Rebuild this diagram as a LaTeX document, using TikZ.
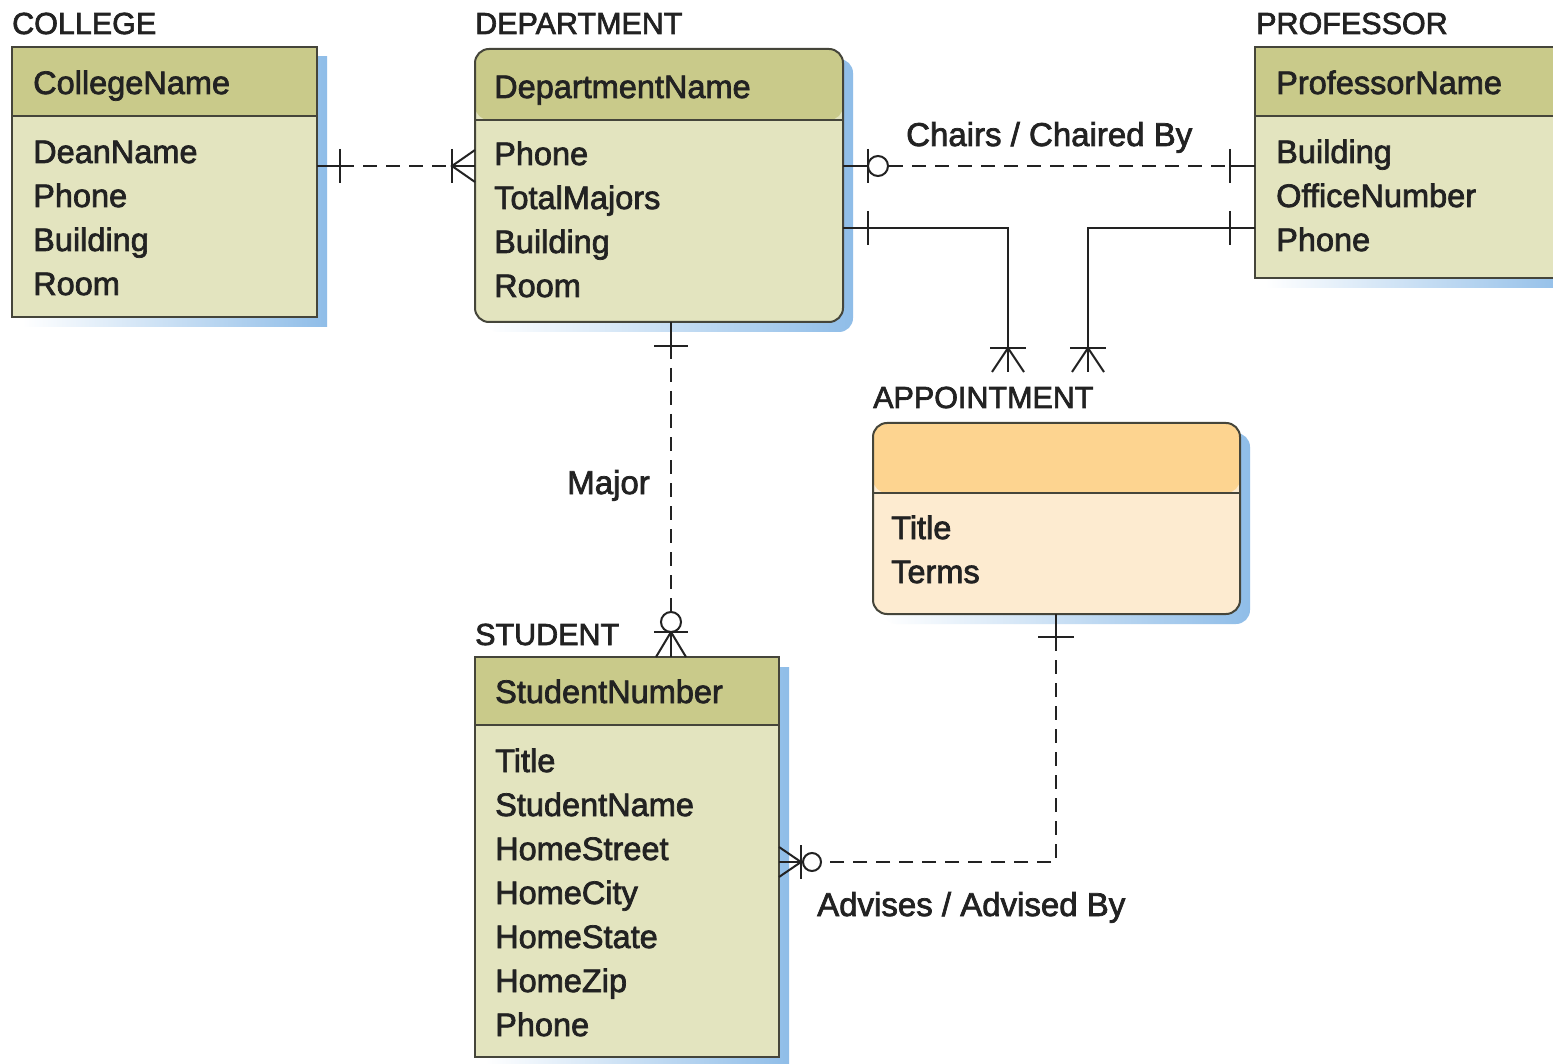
\documentclass[tikz,border=0pt]{standalone}
\usepackage{fontspec}
\setmainfont{Liberation Sans}
\newfontfamily\medsans{Liberation Sans}[FakeBold=2.2]
\usetikzlibrary{calc,backgrounds}

\definecolor{hdr}{HTML}{C9CA8A}
\definecolor{body}{HTML}{E3E4BF}
\definecolor{ahdr}{HTML}{FDD490}
\definecolor{abody}{HTML}{FDEBD0}
\definecolor{edge}{HTML}{45453A}
\definecolor{ink}{HTML}{222222}
\definecolor{sblue}{HTML}{8FBDE8}

\newcommand{\attrfont}{\medsans\fontsize{32.5}{38}\selectfont}
\newcommand{\titlefont}{\medsans\fontsize{30.5}{36}\selectfont}
\newcommand{\relfont}{\medsans\fontsize{33}{38}\selectfont}

\begin{document}
\begin{tikzpicture}[x=1pt,y=-1pt,
  entity/.style={draw=edge, line width=2pt, anchor=north west,
    inner sep=0pt, outer sep=0pt},
  header/.style 2 args={path picture={
      \fill[#1] (path picture bounding box.north west) rectangle
        ([yshift=-#2]path picture bounding box.north east);
      \draw[edge, line width=2pt]
        ([yshift=-#2]path picture bounding box.north west) --
        ([yshift=-#2]path picture bounding box.north east);}},
  attr/.style={anchor=base west, inner sep=0pt, font=\attrfont, text=ink},
  etitle/.style={anchor=base west, inner sep=0pt, font=\titlefont, text=ink},
  rlabel/.style={inner sep=0pt, font=\relfont, text=ink},
  rel/.style={draw=ink, line width=2pt},
  reldash/.style={rel, dash pattern=on 14pt off 9pt},
]
\useasboundingbox (0,0) rectangle (1553,1064);

% ---------- entities ----------
\node[entity, fill=body, header={hdr}{69},
      minimum width=305, minimum height=270] (college) at (12,47) {};
\node[entity, fill=body, header={hdr}{71}, rounded corners=14pt,
      minimum width=368, minimum height=273] (dept) at (475,49) {};
\node[entity, fill=body, header={hdr}{69},
      minimum width=310, minimum height=231] (prof) at (1255,47) {};
\node[entity, fill=abody, header={ahdr}{70}, rounded corners=14pt,
      minimum width=367, minimum height=191] (appt) at (873,423) {};
\node[entity, fill=body, header={hdr}{68},
      minimum width=304, minimum height=400] (student) at (475,657) {};

% drop shadows behind the entities
\begin{pgfonlayer}{background}
  \fill[white] (0,0) rectangle (1553,1064);
  \shade[left color=white, right color=sblue]
    ([shift={(10,10)}]college.north west) rectangle ([shift={(10,10)}]college.south east);
  \shade[left color=white, right color=sblue, rounded corners=14pt]
    ([shift={(10,10)}]dept.north west) rectangle ([shift={(10,10)}]dept.south east);
  \shade[left color=white, right color=sblue]
    ([shift={(10,10)}]prof.north west) rectangle ([shift={(10,10)}]prof.south east);
  \shade[left color=white, right color=sblue, rounded corners=14pt]
    ([shift={(10,10)}]appt.north west) rectangle ([shift={(10,10)}]appt.south east);
  \shade[left color=white, right color=sblue]
    ([shift={(10,10)}]student.north west) rectangle ([shift={(10,10)}]student.south east);
\end{pgfonlayer}

% ---------- entity names ----------
\node[etitle] (tcollege) at (12,34) {COLLEGE};
\node[etitle] (tdept) at (475,34) {DEPARTMENT};
\node[etitle] (tprof) at (1256,34) {PROFESSOR};
\node[etitle] (tappt) at (873,408) {APPOINTMENT};
\node[etitle] (tstudent) at (475,645) {STUDENT};

% ---------- attributes ----------
\node[attr] (c0) at (33,94) {CollegeName};
\node[attr] (c1) at (33,163) {DeanName};
\node[attr] (c2) at (33,207) {Phone};
\node[attr] (c3) at (33,251) {Building};
\node[attr] (c4) at (33,295) {Room};

\node[attr] (d0) at (494,98) {DepartmentName};
\node[attr] (d1) at (494,165) {Phone};
\node[attr] (d2) at (494,209) {TotalMajors};
\node[attr] (d3) at (494,253) {Building};
\node[attr] (d4) at (494,297) {Room};

\node[attr] (p0) at (1276,94) {ProfessorName};
\node[attr] (p1) at (1276,163) {Building};
\node[attr] (p2) at (1276,207) {OfficeNumber};
\node[attr] (p3) at (1276,251) {Phone};

\node[attr] (a1) at (891,539) {Title};
\node[attr] (a2) at (891,583) {Terms};

\node[attr] (s0) at (495,703) {StudentNumber};
\node[attr] (s1) at (495,772) {Title};
\node[attr] (s2) at (495,816) {StudentName};
\node[attr] (s3) at (495,860) {HomeStreet};
\node[attr] (s4) at (495,904) {HomeCity};
\node[attr] (s5) at (495,948) {HomeState};
\node[attr] (s6) at (495,992) {HomeZip};
\node[attr] (s7) at (495,1036) {Phone};

% ---------- relationship end points ----------
\coordinate (colR)  at ($(college.north east)+(0,119)$);
\coordinate (depL)  at ($(dept.north west)+(0,117)$);
\coordinate (depR1) at ($(dept.north east)+(0,117)$);
\coordinate (proL1) at ($(prof.north west)+(0,119)$);
\coordinate (depR2) at ($(dept.north east)+(0,179)$);
\coordinate (proL2) at ($(prof.north west)+(0,181)$);
\coordinate (apT1)  at ($(appt.north west)+(135,-51)$);
\coordinate (apT2)  at ($(appt.north west)+(215,-51)$);
\coordinate (depB)  at ($(dept.south west)+(196,0)$);
\coordinate (stuT)  at ($(student.north west)+(196,0)$);
\coordinate (apB)   at ($(appt.south west)+(183,0)$);
\coordinate (stuR)  at ($(student.north east)+(0,205)$);

% COLLEGE -- DEPARTMENT
\draw[reldash] (colR) -- (depL);
\draw[rel] (colR) -- ++(23,0);
\draw[rel] ($(colR)+(23,-17)$) -- ++(0,34);
\draw[rel] ($(depL)+(-23,0)$) -- (depL);
\draw[rel] ($(depL)+(-23,-17)$) -- ++(0,34);
\draw[rel] ($(depL)+(0,-16)$) -- ($(depL)+(-23,0)$) -- ($(depL)+(0,16)$);

% DEPARTMENT -- PROFESSOR : Chairs / Chaired By
\draw[reldash] (depR1) -- (proL1);
\draw[rel] (depR1) -- ++(25,0);
\draw[rel] ($(depR1)+(25,-17)$) -- ++(0,34);
\draw[rel, fill=white] ($(depR1)+(35,0)$) circle (10);
\draw[rel] (proL1) -- ++(-25,0);
\draw[rel] ($(proL1)+(-25,-17)$) -- ++(0,34);
\node[rlabel, anchor=base west] (chairs) at (906,146) {Chairs / Chaired By};

% DEPARTMENT -- APPOINTMENT
\draw[rel] (depR2) -| (apT1);
\draw[rel] ($(depR2)+(25,-17)$) -- ++(0,34);
\draw[rel] ($(apT1)+(-18,-24)$) -- ++(36,0);
\draw[rel] ($(apT1)+(-16,0)$) -- ($(apT1)+(0,-24)$) -- ($(apT1)+(16,0)$);

% PROFESSOR -- APPOINTMENT
\draw[rel] (proL2) -| (apT2);
\draw[rel] ($(proL2)+(-25,-17)$) -- ++(0,34);
\draw[rel] ($(apT2)+(-18,-24)$) -- ++(36,0);
\draw[rel] ($(apT2)+(-16,0)$) -- ($(apT2)+(0,-24)$) -- ($(apT2)+(16,0)$);

% DEPARTMENT -- STUDENT : Major
\draw[reldash] (depB) -- (stuT);
\draw[rel] (depB) -- ++(0,24);
\draw[rel] ($(depB)+(-17,24)$) -- ++(34,0);
\draw[rel] (stuT) -- ++(0,-25);
\draw[rel] ($(stuT)+(-17,-25)$) -- ++(34,0);
\draw[rel] ($(stuT)+(-15,0)$) -- ($(stuT)+(0,-25)$) -- ($(stuT)+(15,0)$);
\draw[rel, fill=white] ($(stuT)+(0,-35)$) circle (10);
\node[rlabel, anchor=base east] (major) at (650,494) {Major};

% APPOINTMENT -- STUDENT : Advises / Advised By
\draw[reldash] (apB) |- (stuR);
\draw[rel] (apB) -- ++(0,23);
\draw[rel] ($(apB)+(-18,23)$) -- ++(36,0);
\draw[rel] (stuR) -- ++(22,0);
\draw[rel] ($(stuR)+(22,-17)$) -- ++(0,34);
\draw[rel] ($(stuR)+(0,-15)$) -- ($(stuR)+(22,0)$) -- ($(stuR)+(0,15)$);
\draw[rel, fill=white] ($(stuR)+(33,0)$) circle (9);
\node[rlabel, anchor=base west] (advises) at (817,916) {Advises / Advised By};
\end{tikzpicture}
\end{document}
